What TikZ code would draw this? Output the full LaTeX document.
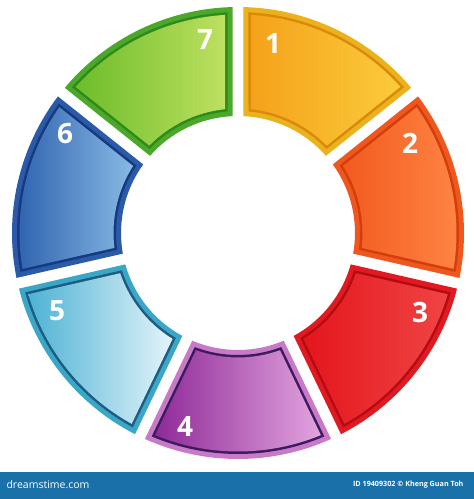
\documentclass[tikz,border=0pt]{standalone}
\usepackage{fontspec}
\setmainfont{Open Sans}
\usetikzlibrary{calc}
\definecolor{barblue}{HTML}{1A71AA}
\definecolor{rA}{HTML}{EBB21E}\definecolor{dA}{HTML}{D98A0A}\definecolor{gAa}{HTML}{F5A21A}\definecolor{gAb}{HTML}{FBCB3C}
\definecolor{rB}{HTML}{F0571E}\definecolor{dB}{HTML}{D23E0C}\definecolor{gBa}{HTML}{F25A1E}\definecolor{gBb}{HTML}{FF8646}
\definecolor{rC}{HTML}{E01A20}\definecolor{dC}{HTML}{B40C14}\definecolor{gCa}{HTML}{E3161C}\definecolor{gCb}{HTML}{F04444}
\definecolor{rD}{HTML}{C87AC8}\definecolor{dD}{HTML}{3E1B5E}\definecolor{gDa}{HTML}{8E2A98}\definecolor{gDb}{HTML}{E2A4DE}
\definecolor{rE}{HTML}{3AA6C8}\definecolor{dE}{HTML}{1E5C80}\definecolor{gEa}{HTML}{4EB2D4}\definecolor{gEb}{HTML}{E4F4FA}
\definecolor{rF}{HTML}{2A5AA8}\definecolor{dF}{HTML}{163A80}\definecolor{gFa}{HTML}{2C60AE}\definecolor{gFb}{HTML}{88BAE4}
\definecolor{rG}{HTML}{4CA82A}\definecolor{dG}{HTML}{2E8A1A}\definecolor{gGa}{HTML}{6CBD2A}\definecolor{gGb}{HTML}{BEE060}
\newcommand\secfill[4]{%
 \pgfmathsetmacro\dO{asin(#4/#2)}%
 \pgfmathsetmacro\dI{asin(#4/#3)}%
 \pgfmathsetmacro\sO{\aA+\dO}\pgfmathsetmacro\eO{\aB-\dO}%
 \pgfmathsetmacro\sI{\aB-\dI}\pgfmathsetmacro\eI{\aA+\dI}%
 \path[#1] ($(c)+(\sO:#2)$) arc[start angle=\sO, end angle=\eO, radius=#2]
   -- ($(c)+(\sI:#3)$) arc[start angle=\sI, end angle=\eI, radius=#3] -- cycle;}
\newcommand\ringseg[6]{% a1 a2 rim dark grad1 grad2
 \def\aA{#1}\def\aB{#2}%
 \secfill{fill=#3}{226}{117}{5.5}%
 \secfill{fill=#4}{221}{122}{10.5}%
 \secfill{left color=#5,right color=#6}{218.5}{124.5}{13}%
}
\tikzset{numlabel/.style={text=white,font=\fontsize{28}{28}\selectfont\bfseries}}
\begin{document}
\begin{tikzpicture}[x=1pt,y=1pt]
\useasboundingbox (0,0) rectangle (474,499);
\fill[white] (0,0) rectangle (474,499);
\coordinate (c) at (238,266);
\ringseg{38.57}{90}{rA}{dA}{gAa}{gAb}
\ringseg{-12.86}{38.57}{rB}{dB}{gBa}{gBb}
\ringseg{-64.29}{-12.86}{rC}{dC}{gCa}{gCb}
\ringseg{-115.71}{-64.29}{rD}{dD}{gDa}{gDb}
\ringseg{-167.14}{-115.71}{rE}{dE}{gEa}{gEb}
\ringseg{141.43}{192.86}{rF}{dF}{gFa}{gFb}
\ringseg{90}{141.43}{rG}{dG}{gGa}{gGb}
\node[numlabel] (n1) at (273,455) {1};
\node[numlabel] (n2) at (410,356) {2};
\node[numlabel] (n3) at (420,187) {3};
\node[numlabel] (n4) at (185,72) {4};
\node[numlabel] (n5) at (57,188) {5};
\node[numlabel] (n6) at (65,365) {6};
\node[numlabel] (n7) at (205,459) {7};
\fill[barblue] (0,0) rectangle (474,27);
\node[anchor=west,text=white,font=\fontsize{10.5}{10.5}\selectfont] (brand) at (3,14) {dreamstime.com};
\node[anchor=east,text=white,font=\fontsize{7.2}{7.2}\selectfont\bfseries] (credit) at (467,14) {ID 19409302 © Kheng Guan Toh};
\end{tikzpicture}
\end{document}
